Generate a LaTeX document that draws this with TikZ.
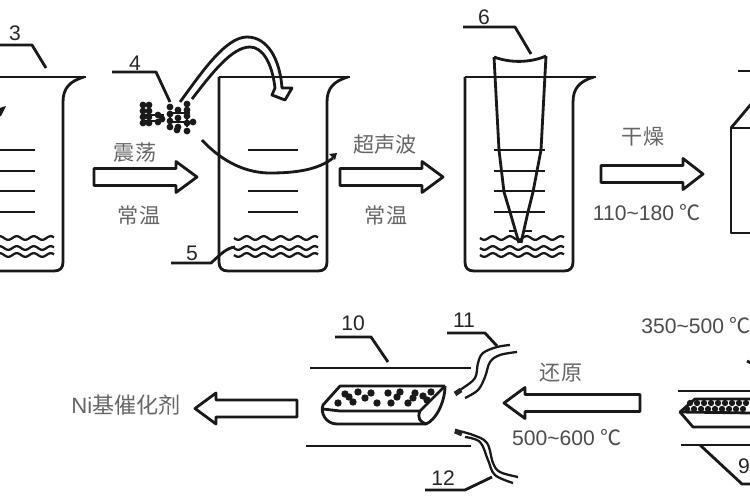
\documentclass[tikz,border=0pt]{standalone}
\usepackage{fontspec}
\setmainfont{Liberation Sans}
\newfontfamily\cjk{Noto Sans CJK SC}
\begin{document}
\begin{tikzpicture}[x=0.02cm,y=-0.02cm,
  line/.style={line width=1.6pt,black!90,line join=round},
  thin line/.style={line width=1.3pt,black!90},
  lab/.style={font=\fontsize{12pt}{14pt}\selectfont,text=black!85,inner sep=0pt},
  cn/.style={font=\cjk\fontsize{12pt}{14pt}\selectfont,text=black!60,inner sep=0pt},
  temp/.style={font=\fontsize{12pt}{14pt}\selectfont,text=black!70,inner sep=0pt},
  dot/.style={circle,fill=black!90,inner sep=0pt,minimum size=2.6pt}]
\useasboundingbox (0,0) rectangle (750,500);
\clip (0,0) rectangle (750,500);
\fill[white] (0,0) rectangle (750,500);
\newcommand{\beaker}[1]{%
  \begin{scope}[xshift=#1*0.02cm]
    \draw[line] (219,77) -- (350,77);
    \draw[line] (219,77) -- (219,262) .. controls (219,268) and (222,271) .. (228,271)
      -- (318,271) .. controls (324,271) and (327,268) .. (327,262) -- (327,102)
      .. controls (327,88) and (334,81) .. (348,77);
    \foreach \yy in {238,248,255}
      \draw[thin line] plot[domain=234:318,samples=70,smooth] (\x,{\yy+1.8*sin(21.18*(\x-234))});
  \end{scope}}
\newcommand{\ruleset}[3]{\foreach \yy in {#3} \draw[line] (#1,\yy) -- (#2,\yy);}
\newcommand{\arrowR}[4]{\draw[line] (#1,#4-8.5) -- (#2,#4-8.5) -- (#2,#4-15.5) -- (#3,#4) -- (#2,#4+15.5) -- (#2,#4+8.5) -- (#1,#4+8.5) -- cycle;}

% beakers
\beaker{-264}
\beaker{0}
\beaker{246}
\ruleset{-20}{35}{150,171,191,212}
\ruleset{248}{298}{150,191,212}
\ruleset{494}{545}{150,171,191,212}
\fill[black!90] (0,108) -- (6,106) -- (1,116) -- (0,116) -- cycle;

% leader labels
\node[lab] (n3) at (15,33) {3};
\coordinate (a3) at (-5,45); \coordinate (b3) at (32,45); \coordinate (c3) at (46,68);
\draw[line] (a3) -- (b3) -- (c3);
\node[lab] (n4) at (135,63) {4};
\coordinate (a4) at (112,72); \coordinate (b4) at (156,72); \coordinate (c4) at (170,102);
\draw[line] (a4) -- (b4) -- (c4);
\node[lab] (n5) at (192,253) {5};
\coordinate (a5) at (171,263); \coordinate (b5) at (211,263); \coordinate (c5) at (235,247);
\draw[line] (a5) -- (b5) .. controls (220,255) and (226,248) .. (c5);
\node[lab] (n6) at (484,17) {6};
\coordinate (a6) at (463,27); \coordinate (b6) at (515,27); \coordinate (c6) at (531,54);
\draw[line] (a6) -- (b6) -- (c6);
\node[lab] (n10) at (353,323) {10};
\coordinate (a10) at (335,337); \coordinate (b10) at (371,337); \coordinate (c10) at (388,362);
\draw[line] (a10) -- (b10) -- (c10);
\node[lab] (n11) at (464,320) {11};
\coordinate (a11) at (447,333); \coordinate (b11) at (485,333); \coordinate (c11) at (497,346);
\draw[line] (a11) -- (b11) -- (c11);
\node[lab] (n12) at (443,478) {12};
\coordinate (a12) at (425,490); \coordinate (b12) at (465,490); \coordinate (c12) at (492,477);
\draw[line] (a12) -- (b12) -- (c12);
\node[lab] (n9) at (744,466) {9};
\coordinate (a9) at (700,445); \coordinate (b9) at (742,484); \coordinate (c9) at (755,484);
\draw[line] (a9) -- (b9) -- (c9);
\draw[line] (747,361) -- (751,363);

% particles
\foreach[count=\i] \px/\py in {143/105,143/111,143/117,143/123,149/105,149/111,149/117,149/123,
  158/115,158/122,170/107,170/114,170/121,170/127,178/110,178/118,178/127,187/104,187/110,187/116,187/123,187/131,193/122,162/119,177/130}
  \node[dot,minimum size=3.9pt] (p\i) at (\px,\py) {};
\draw[thin line] (p1) -- (p4);
\draw[thin line] (p5) -- (p8);
\draw[thin line] (141,115) -- (164,115);
\draw[thin line] (141,121) -- (164,121);
\draw[thin line] (p11) -- (p14);
\draw[thin line] (p18) -- (p22);
\draw[thin line] (168,113) -- (190,113);
\draw[thin line] (168,122) -- (192,122);

% curved block arrow
\draw[line] (180,102) .. controls (200,75) and (225,37) .. (247,37)
  .. controls (268,37) and (280,60) .. (282,88) -- (292,88) -- (285,100) -- (272,95) -- (275,88)
  .. controls (272,62) and (262,47) .. (250,47)
  .. controls (232,47) and (212,73) .. (192,99);

% swirl
\draw[line] (202,140) .. controls (225,165) and (250,173) .. (270,173)
  .. controls (295,173) and (318,170) .. (333,158);
\fill[black!90] (329,154) -- (337,153) -- (335,160) -- cycle;

% pipette
\draw[line] (494,57) .. controls (510,63) and (530,63) .. (546,56);
\draw[line] (494,57) -- (499,150) -- (504,192) -- (510,212) -- (519,243);
\draw[line] (546,56) -- (541,150) -- (533,192) -- (528,212) -- (521,243);
\draw[line] (509,231) -- (516,231);
\draw[line] (525,231) -- (532,231);

% block arrows
\arrowR{94}{176}{197}{177}
\arrowR{340}{422}{443}{177}
\arrowR{601}{683}{703}{174}
\arrowR{297}{216}{195}{408.5}
\arrowR{640}{525}{504}{403}

% labels
\node[cn] (t1) at (135,153) {震荡};
\node[cn] (t2) at (139,215) {常温};
\node[cn] (t3) at (385,145) {超声波};
\node[cn] (t4) at (386,215) {常温};
\node[cn] (t5) at (643,137) {干燥};
\node[temp] (t6) at (647,213) {110\textasciitilde 180 {\cjk ℃}};
\node[temp,anchor=west] (t7) at (641,326) {350\textasciitilde 500 {\cjk ℃}};
\node[cn] (t8) at (561,373) {还原};
\node[temp] (t9) at (567,438) {500\textasciitilde 600 {\cjk ℃}};
\node[cn,anchor=west,font=\cjk\fontsize{12.6pt}{14pt}\selectfont] (t10) at (71,405) {{\fontspec{Liberation Sans}Ni}基催化剂};

% box
\draw[line] (752,128) -- (731,128) -- (731,233) -- (752,233);
\draw[line] (731,128) -- (752,103);
\draw[line] (738,71) -- (752,71);

% furnace 1
\draw[line] (310,368) -- (471,368);
\draw[line] (306,446) -- (471,446);
\draw[line] (445,386) -- (340,386) -- (323,405) .. controls (320,413) and (326,424) .. (337,424) -- (426,424);
\draw[line] (323,409) -- (340,411) -- (420,411) -- (445,386);
\draw[line] (420,411) .. controls (417,418) and (420,422) .. (426,424) .. controls (436,420) and (445,402) .. (445,386);
\foreach \px/\py in {338/403,345/394,349/397,353/402,358/392,365/398,371/393,377/403,388/393,391/403,400/392,408/403,415/393,423/396,431/392,413/398,427/400,397/397}
  \node[dot,minimum size=4.2pt] at (\px,\py) {};

% tubes
\draw[thin line] plot[smooth,tension=0.6] coordinates {(510,345) (497,347) (483,353) (478,363) (475,378) (463,388) (455,393)};
\draw[thin line] plot[smooth,tension=0.6] coordinates {(517,352) (500,355) (490,362) (485,377) (478,390) (465,398)};
\draw[line width=2.8pt,black!85] (455,394) -- (461,390);
\draw[thin line] plot[smooth,tension=0.6] coordinates {(455,430) (473,435) (487,443) (493,463) (500,472) (518,477)};
\draw[thin line] plot[smooth,tension=0.6] coordinates {(465,437) (480,442) (488,460) (495,475) (513,483)};
\draw[line width=2.8pt,black!85] (455,431) -- (462,434);

% furnace 2
\draw[line] (678,391) -- (752,391);
\draw[line] (681,445) -- (752,445);
\draw[line] (752,399) -- (695,399) -- (680,412) -- (693,427) -- (752,427);
\draw[line] (680,412) -- (752,413);
\foreach \px in {690,697,704,711,718,725,732,739,746}
  \node[dot,minimum size=3.6pt] at (\px,403) {};
\foreach \px in {687,694,701,708,715,722,729,736,743}
  \node[dot,minimum size=3.6pt] at (\px,409) {};
\end{tikzpicture}
\end{document}
